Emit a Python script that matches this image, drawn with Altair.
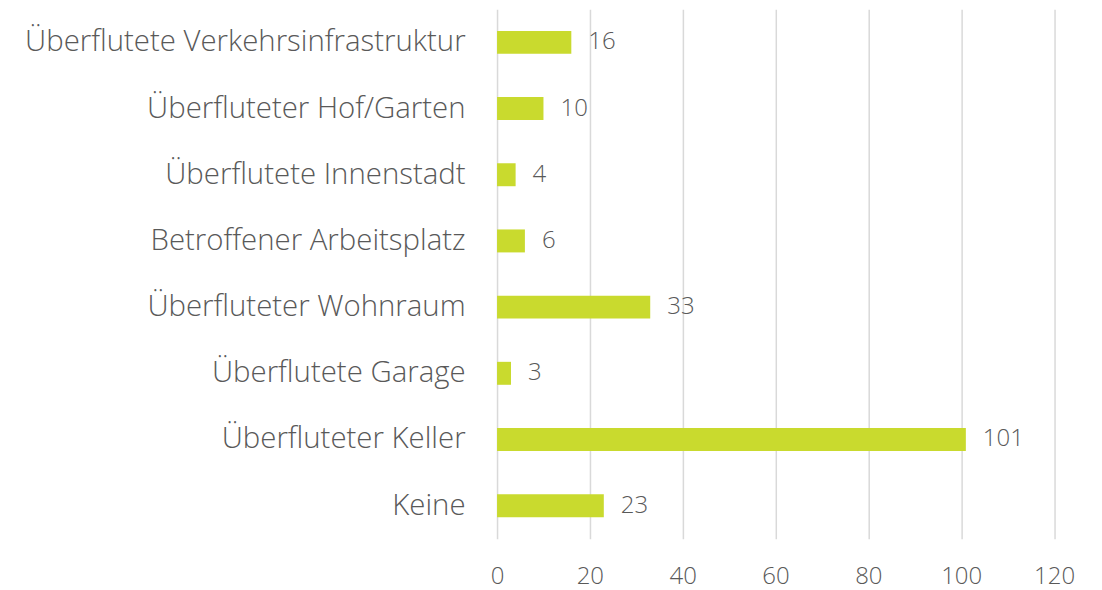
import altair as alt
import pandas as pd

categories = [
    "Überflutete Verkehrsinfrastruktur",
    "Überfluteter Hof/Garten",
    "Überflutete Innenstadt",
    "Betroffener Arbeitsplatz",
    "Überfluteter Wohnraum",
    "Überflutete Garage",
    "Überfluteter Keller",
    "Keine",
]
values = [16, 10, 4, 6, 33, 3, 101, 23]
x_ticks = [0, 20, 40, 60, 80, 100, 120]

df = pd.DataFrame({"cat": categories, "val": values})

FONT = "Open Sans"
TEXT = "#595959"

y_enc = alt.Y(
    "cat:N",
    sort=categories,
    title=None,
    scale=alt.Scale(paddingInner=0.653, paddingOuter=0.3265),
    axis=alt.Axis(
        domain=False, ticks=False, grid=False,
        labelFont=FONT, labelFontSize=29.4, labelFontWeight=300,
        labelColor=TEXT, labelPadding=32, labelLimit=600,
    ),
)
x_enc = alt.X(
    "val:Q",
    title=None,
    scale=alt.Scale(domain=[0, 120], nice=False),
    axis=alt.Axis(
        values=x_ticks, domain=False, ticks=False, grid=True,
        gridColor="#d9d9d9", gridWidth=1.5, labelFlush=False,
        labelFont=FONT, labelFontSize=24, labelFontWeight=300,
        labelColor=TEXT, labelPadding=26,
    ),
)

bars = alt.Chart(df).mark_bar(color="#C9DA2E").encode(x=x_enc, y=y_enc)
labels = alt.Chart(df).mark_text(
    align="left", baseline="middle", dx=17,
    font=FONT, fontSize=24, fontWeight=300, color=TEXT,
).encode(x="val:Q", y=alt.Y("cat:N", sort=categories), text="val:Q")

chart = (
    alt.layer(bars, labels)
    .properties(
        width=557.5, height=530,
        autosize=alt.AutoSizeParams(type="none"),
        padding={"left": 489.5, "top": 1, "right": 40, "bottom": 60},
        background="white",
    )
    .configure_view(stroke=None)
)

chart.save("out.html", embed_options={"renderer": "svg", "actions": False})
